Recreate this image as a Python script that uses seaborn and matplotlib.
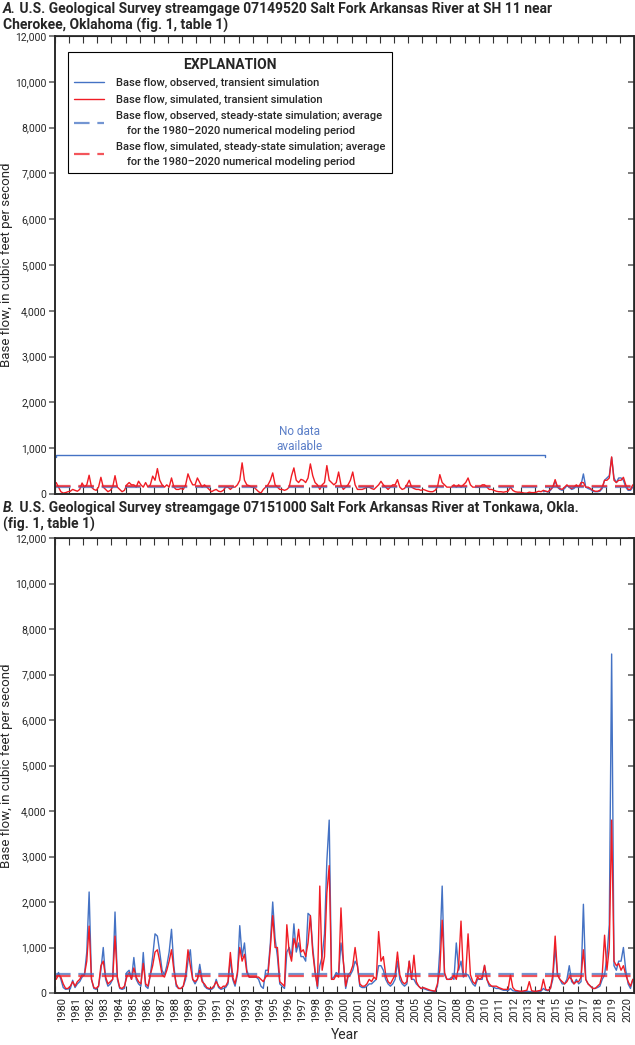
import numpy as np
import pandas as pd
import matplotlib
matplotlib.use("Agg")
import matplotlib.pyplot as plt
import seaborn as sns

# base flow, cubic feet per second, two-month steps (6 values per year), 1980-2020
years = list(range(1980, 2021))

a_sim = [
    250, 150, 50, 20, 30, 50,      # 1980
    60, 100, 80, 60, 100, 240,     # 1981
    150, 200, 410, 150, 100, 80,   # 1982
    150, 365, 150, 100, 50, 80,    # 1983
    150, 400, 150, 100, 50, 80,    # 1984
    200, 250, 200, 200, 150, 280,  # 1985
    200, 150, 250, 150, 200, 390,  # 1986
    300, 555, 300, 200, 150, 200,  # 1987
    150, 350, 150, 100, 100, 120,  # 1988
    100, 200, 440, 300, 200, 200,  # 1989
    350, 250, 150, 200, 150, 100,  # 1990
    50, 80, 100, 60, 50, 80,       # 1991
    150, 150, 100, 150, 150, 200,  # 1992
    300, 680, 300, 200, 180, 150,  # 1993
    150, 100, 50, 20, 100, 150,    # 1994
    200, 300, 460, 200, 150, 100,  # 1995
    100, 80, 100, 150, 400, 570,   # 1996
    300, 250, 320, 300, 250, 350,  # 1997
    657, 400, 250, 200, 100, 200,  # 1998
    250, 620, 300, 250, 200, 250,  # 1999
    480, 200, 100, 150, 200, 300,  # 2000
    480, 200, 100, 100, 100, 120,  # 2001
    150, 150, 120, 100, 150, 200,  # 2002
    277, 200, 150, 100, 150, 200,  # 2003
    200, 314, 150, 100, 120, 200,  # 2004
    300, 150, 120, 100, 100, 80,   # 2005
    100, 80, 60, 50, 50, 80,       # 2006
    150, 423, 250, 200, 150, 150,  # 2007
    150, 200, 150, 200, 150, 200,  # 2008
    250, 350, 200, 150, 150, 150,  # 2009
    150, 200, 200, 150, 100, 100,  # 2010
    80, 60, 50, 50, 40, 50,        # 2011
    60, 150, 80, 50, 40, 40,       # 2012
    30, 20, 20, 40, 30, 30,        # 2013
    40, 60, 50, 80, 60, 50,        # 2014
    100, 150, 314, 150, 120, 100,  # 2015
    150, 200, 150, 120, 150, 200,  # 2016
    150, 250, 250, 150, 150, 120,  # 2017
    80, 60, 60, 80, 150, 300,      # 2018
    300, 350, 810, 300, 250, 300,  # 2019
    300, 365, 200, 100, 100, 200,  # 2020
]

# observed record at the Cherokee gage begins in mid-2014
a_obs = [
    50, 60, 40,                    # 2014 (Jul-Dec)
    80, 150, 280, 150, 100, 80,    # 2015
    120, 180, 150, 100, 120, 180,  # 2016
    150, 200, 438, 150, 120, 100,  # 2017
    60, 50, 50, 60, 120, 300,      # 2018
    350, 400, 800, 350, 250, 350,  # 2019
    350, 300, 150, 80, 80, 150,    # 2020
]

b_obs = [
    350, 450, 300, 120, 80, 90,         # 1980
    90, 280, 120, 200, 250, 350,        # 1981
    400, 900, 2220, 300, 100, 80,       # 1982
    150, 500, 1000, 300, 150, 200,      # 1983
    300, 1780, 300, 100, 80, 100,       # 1984
    450, 500, 300, 780, 300, 200,       # 1985
    150, 890, 150, 100, 400, 800,       # 1986
    1300, 1250, 900, 500, 400, 600,     # 1987
    900, 1400, 600, 150, 100, 100,      # 1988
    150, 300, 700, 950, 300, 200,       # 1989
    300, 630, 300, 150, 100, 80,        # 1990
    80, 120, 300, 120, 80, 100,         # 1991
    120, 200, 750, 300, 150, 400,       # 1992
    1480, 800, 1100, 500, 350, 350,     # 1993
    350, 350, 300, 150, 100, 500,       # 1994
    500, 1100, 2000, 1200, 800, 200,    # 1995
    150, 100, 900, 1000, 800, 1520,     # 1996
    900, 1100, 800, 800, 700, 1750,     # 1997
    1700, 1000, 500, 100, 600, 800,     # 1998
    1300, 2900, 3800, 300, 350, 450,    # 1999
    400, 1100, 700, 100, 350, 400,      # 2000
    500, 700, 600, 150, 120, 120,       # 2001
    150, 200, 200, 250, 300, 600,       # 2002
    600, 500, 300, 200, 150, 200,       # 2003
    300, 700, 300, 200, 150, 200,       # 2004
    700, 300, 300, 200, 150, 100,       # 2005
    100, 80, 60, 50, 40, 30,            # 2006
    150, 950, 2350, 400, 300, 300,      # 2007
    350, 300, 1100, 500, 700, 350,      # 2008
    400, 400, 300, 200, 150, 300,       # 2009
    300, 300, 600, 300, 150, 150,       # 2010
    120, 100, 100, 80, 60, 60,          # 2011
    50, 100, 50, 40, 30, 30,            # 2012
    30, 30, 40, 30, 30, 30,             # 2013
    30, 30, 40, 100, 60, 50,            # 2014
    100, 300, 1000, 400, 300, 200,      # 2015
    200, 300, 600, 250, 200, 300,       # 2016
    200, 250, 1950, 300, 200, 150,      # 2017
    100, 100, 120, 150, 300, 400,       # 2018
    800, 1500, 7450, 600, 500, 700,     # 2019
    700, 1000, 500, 200, 100, 300,      # 2020
]

b_sim = [
    300, 400, 350, 200, 100, 100,       # 1980
    150, 250, 150, 250, 300, 400,       # 1981
    400, 700, 1470, 300, 120, 100,      # 1982
    150, 600, 700, 350, 200, 250,       # 1983
    300, 1250, 350, 120, 100, 150,      # 1984
    350, 450, 300, 550, 350, 250,       # 1985
    200, 650, 200, 150, 400, 600,       # 1986
    900, 950, 700, 400, 350, 500,       # 1987
    700, 950, 500, 200, 100, 100,       # 1988
    150, 400, 950, 600, 300, 250,       # 1989
    300, 500, 250, 200, 120, 100,       # 1990
    100, 150, 250, 150, 100, 150,       # 1991
    150, 250, 890, 350, 200, 450,       # 1992
    1000, 700, 850, 450, 350, 350,      # 1993
    350, 350, 350, 300, 250, 350,       # 1994
    400, 1000, 1700, 1000, 1000, 250,   # 1995
    200, 150, 1500, 900, 700, 1200,     # 1996
    1000, 1400, 900, 950, 800, 1100,    # 1997
    1700, 900, 450, 150, 2350, 500,     # 1998
    800, 2200, 2800, 300, 300, 400,     # 1999
    350, 1870, 700, 150, 400, 450,      # 2000
    600, 1000, 600, 200, 150, 150,      # 2001
    200, 300, 250, 350, 300, 1350,      # 2002
    700, 800, 400, 250, 200, 300,       # 2003
    400, 900, 400, 250, 200, 250,       # 2004
    700, 300, 830, 250, 150, 100,       # 2005
    120, 100, 80, 60, 50, 40,           # 2006
    200, 500, 1600, 450, 300, 300,      # 2007
    300, 400, 300, 600, 1580, 400,      # 2008
    400, 1300, 400, 250, 200, 350,      # 2009
    300, 350, 610, 300, 200, 150,       # 2010
    150, 150, 120, 100, 80, 80,         # 2011
    80, 400, 120, 60, 50, 40,           # 2012
    40, 50, 60, 250, 50, 40,            # 2013
    40, 50, 60, 300, 80, 60,            # 2014
    100, 400, 1250, 400, 300, 250,      # 2015
    200, 250, 350, 300, 200, 250,       # 2016
    250, 350, 950, 300, 200, 150,       # 2017
    100, 100, 150, 200, 400, 1270,      # 2018
    500, 1000, 3800, 700, 600, 650,     # 2019
    500, 600, 400, 250, 150, 300,       # 2020
]

# steady-state averages for 1980-2020
a_obs_mean, a_sim_mean = 150, 170
b_obs_mean, b_sim_mean = 420, 380
nodata_level = 860

BLUE = "#4472c4"
RED = "#f01c24"

sns.set_theme(style="ticks")
plt.rcParams["font.family"] = ["Roboto", "DejaVu Sans"]

t = 1980 + (np.arange(len(b_obs)) + 0.5) / 6
t_a_obs = t[-len(a_obs):]


def fwd(y):
    y = np.asarray(y, dtype=float)
    return np.where(y <= 8000, y, 8000 + (y - 8000) / 2)


def inv(v):
    v = np.asarray(v, dtype=float)
    return np.where(v <= 8000, v, 8000 + (v - 8000) * 2)


yticks = [0, 1000, 2000, 3000, 4000, 5000, 6000, 7000, 8000, 10000, 12000]


def draw_panel(ax, t_obs, obs, t_sim, sim, obs_mean, sim_mean, show_years):
    df_obs = pd.DataFrame({"year": t_obs, "flow": obs})
    df_sim = pd.DataFrame({"year": t_sim, "flow": sim})
    sns.lineplot(data=df_obs, x="year", y="flow", color=BLUE, lw=1.0, ax=ax,
                 label="Base flow, observed, transient simulation")
    sns.lineplot(data=df_sim, x="year", y="flow", color=RED, lw=1.0, ax=ax,
                 label="Base flow, simulated, transient simulation")
    ax.axhline(obs_mean, color=BLUE, lw=1.6, alpha=0.75, dashes=(7, 3.5),
               label="Base flow, observed, steady-state simulation; average\n"
                     "    for the 1980\u20132020 numerical modeling period")
    ax.axhline(sim_mean, color=RED, lw=1.6, alpha=0.75, dashes=(7, 3.5),
               label="Base flow, simulated, steady-state simulation; average\n"
                     "    for the 1980\u20132020 numerical modeling period")

    ax.set_yscale("function", functions=(fwd, inv))
    ax.set_ylim(0, 12000)
    ax.set_yticks(yticks)
    ax.set_yticklabels([f"{v:,}" for v in yticks])
    ax.set_xlim(1980, 2021)
    ax.set_xticks(range(1980, 2022))
    ax.set_xticks(np.arange(1980.5, 2021), minor=True)
    ax.tick_params(axis="x", which="major", direction="in", top=True, bottom=True,
                   length=5, width=0.8, color="#333333", labelbottom=False)
    if show_years:
        ax.set_xticklabels([str(y) for y in years], minor=True, rotation=90)
        ax.tick_params(axis="x", which="minor", length=0, labelsize=8, pad=3)
        ax.set_xlabel("Year", fontsize=10, labelpad=4)
    else:
        ax.tick_params(axis="x", which="minor", length=0, labelbottom=False)
        ax.set_xlabel("")
    ax.tick_params(axis="y", direction="out", length=4, width=1.2,
                   color="#666666", labelsize=7.5, pad=2)
    ax.set_ylabel("Base flow, in cubic feet per second", fontsize=9.5)
    ax.yaxis.set_label_coords(-0.072, 0.5)
    for side in ["top", "right"]:
        ax.spines[side].set_visible(True)
        ax.spines[side].set_linewidth(0.8)
    for side in ["left", "bottom"]:
        ax.spines[side].set_linewidth(1.3)
        ax.spines[side].set_color("#666666")

    ax2 = ax.twinx()
    ax2.set_yscale("function", functions=(fwd, inv))
    ax2.set_ylim(0, 12000)
    ax2.set_yticks(yticks)
    ax2.set_yticklabels([])
    ax2.tick_params(axis="y", direction="in", length=4, width=1.2, color="#666666")
    ax2.set_ylabel("")


fig = plt.figure(figsize=(6.35, 10.45), dpi=100)
W, H = 635, 1045
ax_a = fig.add_axes([55 / W, 1 - 494 / H, 579 / W, 458 / H])
ax_b = fig.add_axes([55 / W, 1 - 993 / H, 579 / W, 455 / H])

draw_panel(ax_a, t_a_obs, a_obs, t, a_sim, a_obs_mean, a_sim_mean, False)
draw_panel(ax_b, t, b_obs, t, b_sim, b_obs_mean, b_sim_mean, True)

# "No data available" bracket over the years without observations
nodata_end = t_a_obs[0] + 0.1
ax_a.plot([1980.05, 1980.05, nodata_end, nodata_end],
          [nodata_level - 60, nodata_level, nodata_level, nodata_level - 60],
          color=BLUE, lw=1.0)
ax_a.text((1980 + nodata_end) / 2, nodata_level + 25, "No data\navailable",
          color="#5b7fc8", fontsize=8.5, ha="center", va="bottom", linespacing=1.25)

leg = ax_a.legend(loc="upper left", bbox_to_anchor=(0.022, 0.966), frameon=True,
                  fancybox=False, edgecolor="black", framealpha=1, borderaxespad=0,
                  title="EXPLANATION", title_fontproperties={"weight": "bold", "size": 10},
                  prop={"size": 8, "weight": "medium"}, handlelength=2.7,
                  labelspacing=0.55, borderpad=0.6, handletextpad=1.0)
for txt in leg.get_texts():
    txt.set_linespacing(1.6)
leg.get_frame().set_linewidth(0.8)
ax_b.get_legend().remove()

# panel titles
for y0, letter, line1, line2 in [
    (2, "A.", " U.S. Geological Survey streamgage 07149520 Salt Fork Arkansas River at SH 11 near",
     "Cherokee, Oklahoma (fig. 1, table 1)"),
    (501, "B.", " U.S. Geological Survey streamgage 07151000 Salt Fork Arkansas River at Tonkawa, Okla.",
     "(fig. 1, table 1)"),
]:
    tl = fig.text(3 / W, 1 - y0 / H, letter, fontsize=10, fontweight="bold",
                  fontstyle="italic", ha="left", va="top")
    ax_a.annotate(line1, xy=(1, 1), xycoords=tl, ha="left", va="top",
                  fontsize=10, fontweight="bold", annotation_clip=False)
    fig.text(3 / W, 1 - (y0 + 16) / H, line2, fontsize=10, fontweight="bold",
             ha="left", va="top")

fig.savefig("out.png", dpi=100)
